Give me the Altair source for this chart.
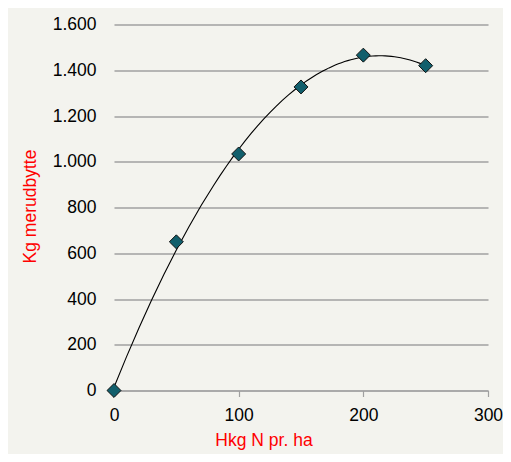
import altair as alt
import pandas as pd

n_rate = [0, 50, 100, 150, 200, 250]
yield_gain = [0, 650, 1034, 1327, 1466, 1420]

x_ticks = [0, 100, 200, 300]
y_ticks = [0, 200, 400, 600, 800, 1000, 1200, 1400, 1600]

df = pd.DataFrame({"x": n_rate, "y": yield_gain})

FONT = "Liberation Sans, Arial, sans-serif"

x_enc = alt.X(
    "x:Q",
    scale=alt.Scale(domain=[0, 300], nice=False),
    axis=alt.Axis(
        values=x_ticks,
        title="Hkg N pr. ha",
        grid=False,
        labelFlush=False,
        domainColor="#a0a0a0",
        domainWidth=1.2,
        tickColor="#a0a0a0",
        tickWidth=1.2,
        tickSize=6,
        labelPadding=10,
        labelFontSize=17.5,
        labelColor="#000000",
        labelFont=FONT,
        titleFont=FONT,
        titleFontSize=17.5,
        titleFontWeight="normal",
        titleColor="#ff0000",
        titleX=149.5,
        titleY=41,
        titleAlign="center",
        titleBaseline="top",
    ),
)

y_enc = alt.Y(
    "y:Q",
    scale=alt.Scale(domain=[0, 1600], nice=False),
    axis=alt.Axis(
        values=y_ticks,
        title="Kg merudbytte",
        grid=True,
        gridColor="#a0a0a0",
        gridWidth=1.3,
        domain=False,
        ticks=False,
        tickSize=0,
        labelPadding=18,
        labelFlush=False,
        labelFontSize=17.5,
        labelColor="#000000",
        labelFont=FONT,
        labelExpr="replace(format(datum.value, ',d'), ',', '.')",
        titleFont=FONT,
        titleFontSize=17.5,
        titleFontWeight="normal",
        titleColor="#ff0000",
        titleAngle=270,
        titleX=-92.6,
        titleY=181.5,
        titleAlign="center",
        titleBaseline="top",
    ),
)

base = alt.Chart(df)

trend = (
    base.transform_regression("x", "y", method="poly", order=2, extent=[0, 250])
    .mark_line(color="#000000", strokeWidth=1.1)
    .encode(x=x_enc, y=y_enc)
)

points = base.mark_point(
    shape="diamond",
    filled=True,
    fill="#115f6c",
    stroke="#111111",
    strokeWidth=1,
    size=195,
    opacity=1,
).encode(x=x_enc, y=y_enc)

chart = (
    alt.layer(trend, points)
    .properties(
        width=374,
        height=366,
        autosize=alt.AutoSizeParams(type="none"),
        padding={"left": 106, "top": 16.5, "right": 15, "bottom": 63.5},
        background="#f3f3ee",
    )
    .configure_view(stroke=None)
)

chart.save("out.html", embed_options={"renderer": "svg", "actions": False})
